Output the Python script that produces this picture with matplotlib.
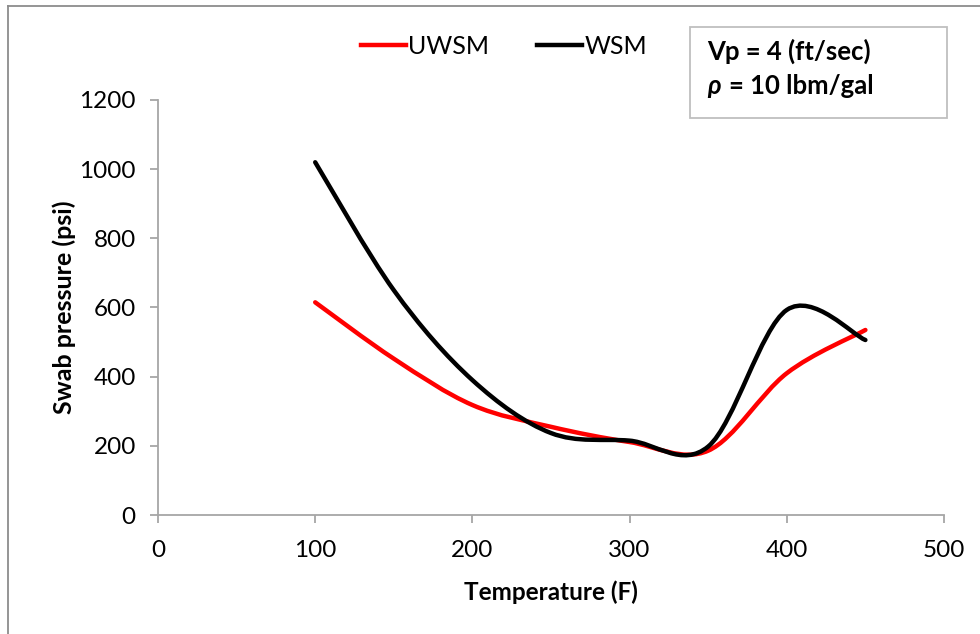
import matplotlib.pyplot as plt
from matplotlib.path import Path
from matplotlib.patches import PathPatch, Rectangle
from matplotlib.lines import Line2D

plt.rcParams['font.family'] = ['Lato', 'DejaVu Sans']

# data
temp = [100, 150, 200, 250, 300, 350, 400, 450]
uwsm = [615, 452, 318, 255, 211, 186, 410, 535]
wsm = [1020, 650, 390, 237, 215, 198, 593, 506]


def smooth_path(xs, ys):
    # Excel-style smoothed line: cubic bezier segments through the points
    pts = list(zip(xs, ys))
    verts = [pts[0]]
    codes = [Path.MOVETO]
    n = len(pts)
    for i in range(n - 1):
        p0 = pts[i - 1] if i > 0 else pts[i]
        p1 = pts[i]
        p2 = pts[i + 1]
        p3 = pts[i + 2] if i + 2 < n else pts[i + 1]
        c1 = (p1[0] + (p2[0] - p0[0]) / 6, p1[1] + (p2[1] - p0[1]) / 6)
        c2 = (p2[0] - (p3[0] - p1[0]) / 6, p2[1] - (p3[1] - p1[1]) / 6)
        verts += [c1, c2, p2]
        codes += [Path.CURVE4] * 3
    return Path(verts, codes)


fig = plt.figure(figsize=(9.8, 6.34), dpi=100)
ax = fig.add_axes([158 / 980, (634 - 515) / 634, (944 - 158) / 980, (515 - 100) / 634])

ax.add_patch(PathPatch(smooth_path(temp, uwsm), fill=False, edgecolor='#ff0000',
                       lw=3.2, capstyle='round'))
ax.add_patch(PathPatch(smooth_path(temp, wsm), fill=False, edgecolor='#000000',
                       lw=3.2, capstyle='round'))

ax.set_xlim(0, 500)
ax.set_ylim(0, 1200)
ax.set_xticks(range(0, 501, 100))
ax.set_yticks(range(0, 1201, 200))
for s in ['top', 'right']:
    ax.spines[s].set_visible(False)
for s in ['left', 'bottom']:
    ax.spines[s].set_color('#a6a6a6')
    ax.spines[s].set_linewidth(1.3)
ax.tick_params(direction='out', length=6, width=1.3, color='#a6a6a6', labelsize=17.5)
ax.tick_params(axis='y', pad=10)
ax.tick_params(axis='x', pad=12)
ax.set_xlabel('Temperature (F)', fontsize=17.5, fontweight='bold', labelpad=14)
ax.set_ylabel('Swab pressure (psi)', fontsize=18, fontweight='bold', labelpad=2)

handles = [Line2D([], [], color='#ff0000', lw=3.2), Line2D([], [], color='#000000', lw=3.2)]
fig.legend(handles, ['UWSM', 'WSM'], loc='center', bbox_to_anchor=(504 / 980, 1 - 46 / 634),
           ncol=2, frameon=False, fontsize=18, handlelength=1.8, handletextpad=0.1,
           columnspacing=1.9)

# parameter box
fig.patches.append(Rectangle((690 / 980, 1 - 118 / 634), 257 / 980, 91 / 634,
                             transform=fig.transFigure, fill=False,
                             edgecolor='#bfbfbf', lw=1.3))
fig.text(707 / 980, 1 - 51 / 634, 'Vp = 4 (ft/sec)', fontsize=18.5, fontweight='bold', va='center')
fig.text(707 / 980, 1 - 86 / 634, 'ρ', fontsize=18.5, fontweight='bold', fontstyle='italic', va='center')
fig.text(729 / 980, 1 - 86 / 634, '= 10 lbm/gal', fontsize=18.5, fontweight='bold', va='center')

# chart area border
fig.add_artist(Line2D([8 / 980, 8 / 980], [0, 1 - 6 / 634], transform=fig.transFigure,
                      color='#8c8c8c', lw=1.3))
fig.add_artist(Line2D([8 / 980, 1], [1 - 6 / 634, 1 - 6 / 634], transform=fig.transFigure,
                      color='#8c8c8c', lw=1.3))

fig.savefig('out.png', dpi=100)
